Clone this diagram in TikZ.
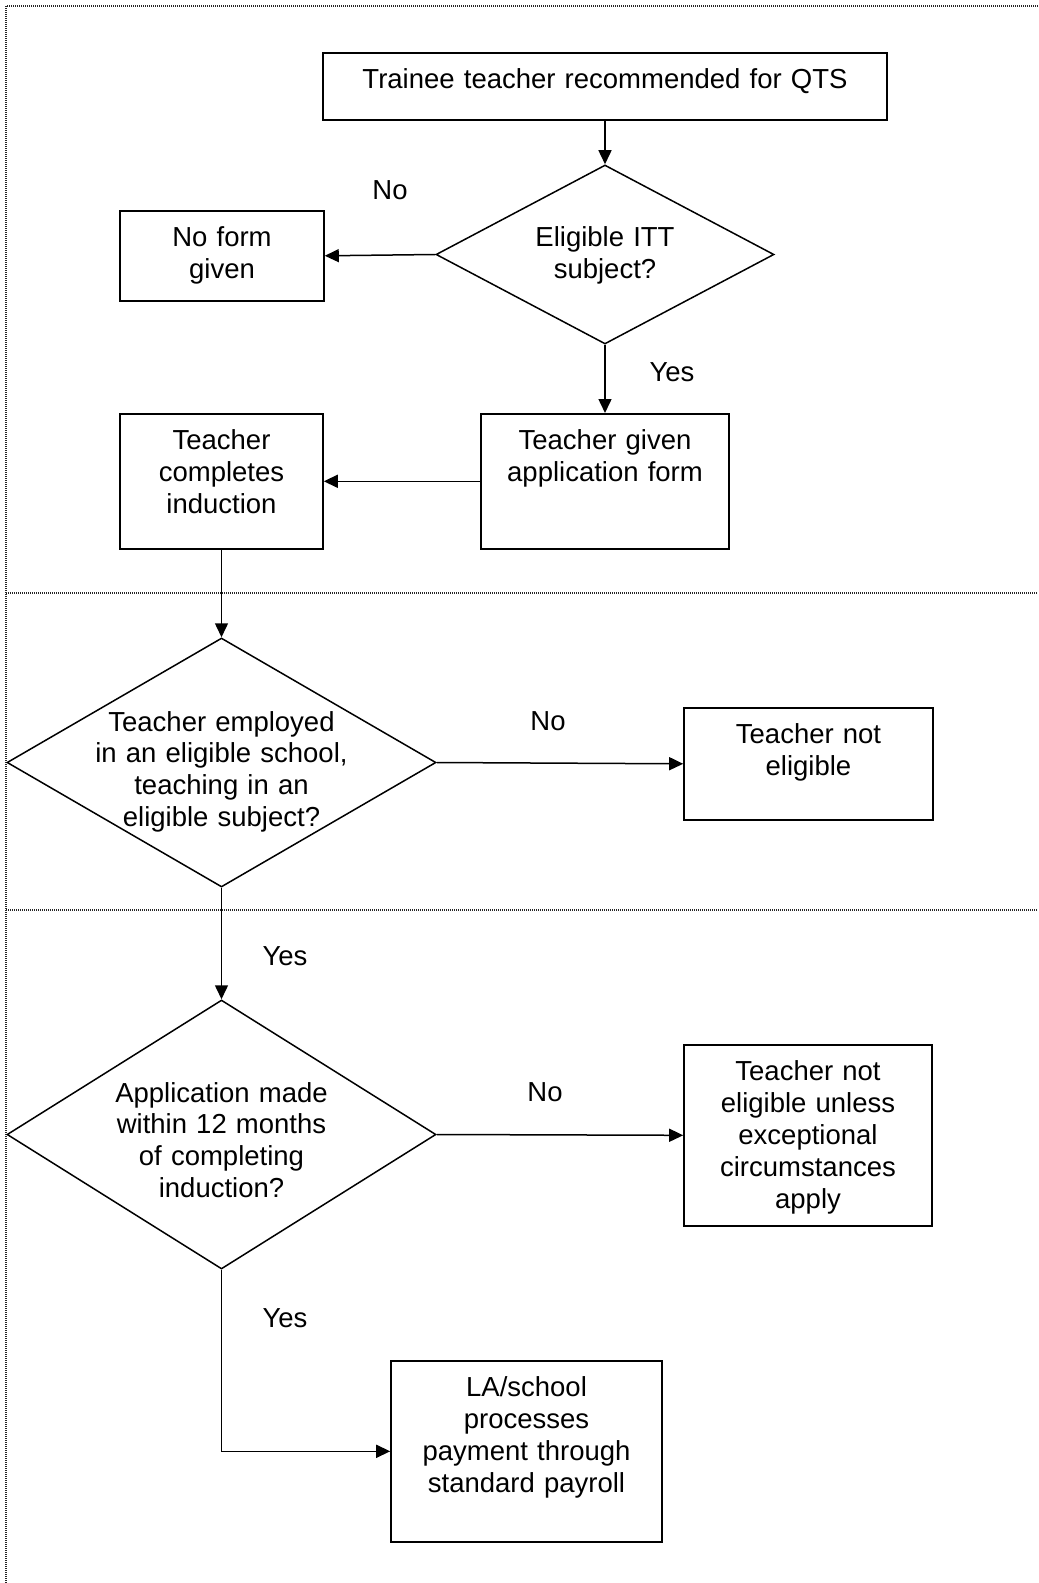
\documentclass[tikz,border=0pt]{standalone}
\usepackage{fontspec}
\setmainfont{Liberation Sans}
\usetikzlibrary{shapes.geometric,arrows.meta}
\definecolor{FrameGrey}{gray}{0.15}
\newcommand\flowfont{\fontsize{13.75pt}{15.9pt}\selectfont}

\tikzset{
  flowbox/.style={draw, rectangle, line width=0.8pt, inner sep=0pt, align=center, text height=18pt, anchor=north},
  flowtest/.style={draw, diamond, line width=0.75pt, inner sep=-12pt, shape aspect=1.7, align=center, text height=10pt},
  flowline/.style={line width=0.75pt, -{Triangle[length=7pt,width=6.5pt]}},
  framerule/.style={FrameGrey, line width=0.6pt, dash pattern=on 0.5pt off 0.5pt},
  answer/.style={inner sep=0pt}
}

\begin{document}
\begin{tikzpicture}[x=0.5pt, y=-0.5pt, font=\flowfont]
	\useasboundingbox (0,0) rectangle (1038,1583);
	% dotted frame and section rules
	\draw[framerule] (1038,6) -- (6,6) -- (6,1583);
	\draw[framerule] (6,593) -- (1038,593);
	\draw[framerule] (6,910) -- (1038,910);

	\node[flowbox, text width=282pt, text depth=15.5pt] (qts) at (605,52) {Trainee teacher recommended for QTS};
	\node[flowtest, text width=80pt, text depth=17.5pt, minimum width=169pt, minimum height=89.5pt] (ittsubject) at (605,254.5) {Eligible ITT\\subject?};
	\node[flowbox, text width=102pt, text depth=27pt] (noform) at (222,210) {No form\\given};
	\node[flowbox, text width=124pt, text depth=49.5pt] (appform) at (605,413) {Teacher given\\application form};
	\node[flowbox, text width=101.5pt, text depth=49.5pt] (induction) at (221.5,413) {Teacher\\completes\\induction};

	\node[flowtest, text width=130pt, text depth=41.5pt, minimum width=214.5pt, minimum height=124.5pt] (employed) at (221.5,762.5) {Teacher employed\\in an eligible school,\\teaching in an\\eligible subject?};
	\node[flowbox, text width=124.5pt, text depth=38pt] (noteligible) at (808.5,707) {Teacher not\\eligible};

	\node[flowtest, text width=115pt, text depth=42.5pt, minimum width=214.5pt, minimum height=134.5pt] (twelvemonths) at (221.5,1134.5) {Application made\\within 12 months\\of completing\\induction?};
	\node[flowbox, text width=124pt, text depth=72.5pt] (exceptional) at (808,1044) {Teacher not\\eligible unless\\exceptional\\circumstances\\apply};
	\node[flowbox, text width=135.5pt, text depth=72.5pt] (payroll) at (526.5,1360) {LA/school\\processes\\payment through\\standard payroll};

	% answers
	\node[answer] (no1) at (390,190) {No};
	\node[answer] (yes1) at (672,372) {Yes};
	\node[answer] (no2) at (548,721) {No};
	\node[answer] (yes2) at (285,956) {Yes};
	\node[answer] (no3) at (545,1092) {No};
	\node[answer] (yes3) at (285,1318) {Yes};

	\draw[flowline] (qts.south) -- (ittsubject.north);
	\draw[flowline] (ittsubject.west) -- (noform.east);
	\draw[flowline] (ittsubject.south) -- (appform.north);
	\draw[flowline] (appform.west) -- (induction.east);
	\draw[flowline] (induction.south) -- (employed.north);
	\draw[flowline] (employed.east) -- (noteligible.west);
	\draw[flowline] (employed.south) -- (twelvemonths.north);
	\draw[flowline] (twelvemonths.east) -- (exceptional.west);
	\draw[flowline] (twelvemonths.south) |- (payroll.west);
\end{tikzpicture}
\end{document}
